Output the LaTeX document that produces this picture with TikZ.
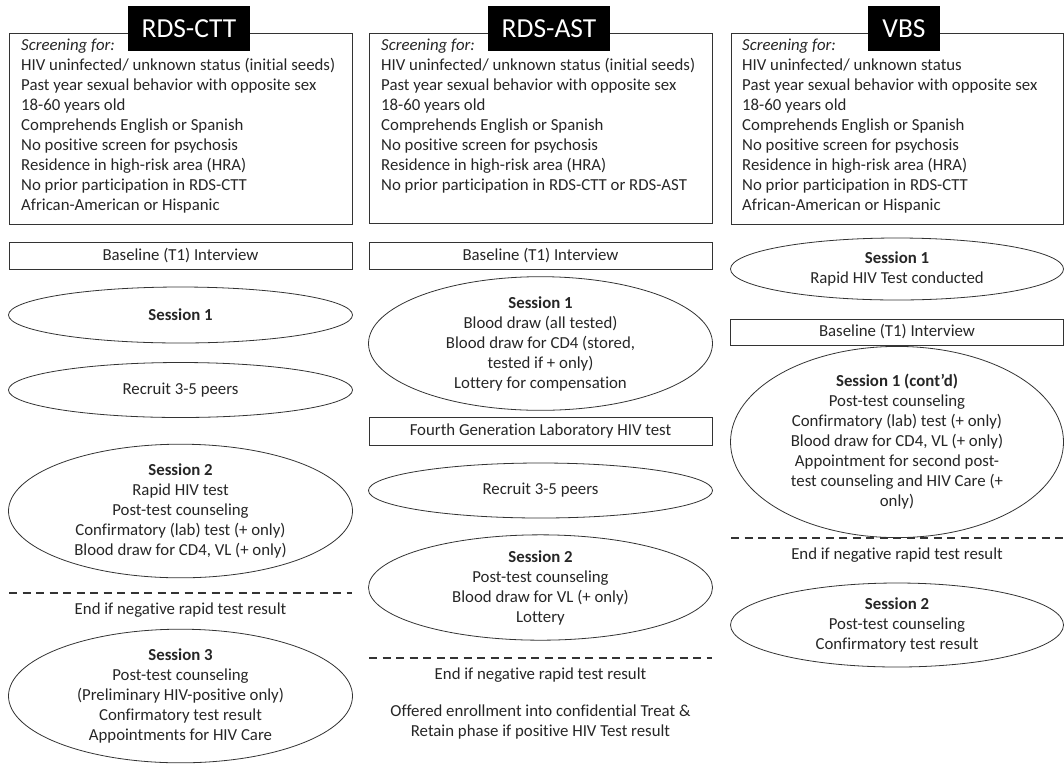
\documentclass[tikz,border=0pt]{standalone}
\usepackage{fontspec}
\setmainfont[Ligatures=NoCommon]{Carlito}
\usetikzlibrary{shapes.geometric}
\begin{document}
\begin{tikzpicture}[
  x=1pt,y=-1pt,
  every node/.style={font=\fontsize{16.8}{20}\selectfont,text=black!85,inner sep=0pt},
  frame/.style={draw=black!80,line width=1pt,anchor=north west},
  hdr/.style={fill=black,text=white,font=\fontsize{27.5}{28}\selectfont,minimum height=45,minimum width=122},
  crit/.style={align=left,anchor=north west},
  bar/.style={draw=black!80,line width=1pt,minimum width=343,minimum height=27},
  sess/.style={ellipse,draw=black!80,line width=0.8pt,align=center},
  cut/.style={draw=black!80,line width=1.6pt,dash pattern=on 8pt off 5.5pt},
  note/.style={align=center}
]
\useasboundingbox (0,0) rectangle (1064,764);

% RDS-CTT column
\node[frame,minimum width=343,minimum height=191] (cttF) at (9,33) {};
\node[crit] (cttC) at (21,39) {\textit{Screening for:}\\
  HIV uninfected/ unknown status (initial seeds)\\
  Past year sexual behavior with opposite sex\\
  18-60 years old\\
  Comprehends English or Spanish\\
  No positive screen for psychosis\\
  Residence in high-risk area (HRA)\\
  No prior participation in RDS-CTT\\
  African-American or Hispanic};
\node[hdr] (cttH) at (189,28.5) {RDS-CTT};
\node[bar] (cttB) at (180.5,255.5) {Baseline (T1) Interview};
\node[sess,minimum width=344,minimum height=56] (cttS1) at (180.5,315) {\textbf{Session 1}};
\node[sess,minimum width=344,minimum height=55] (cttR) at (180.5,390) {Recruit 3-5 peers};
\node[sess,minimum width=344,minimum height=128] (cttS2) at (180.5,511) {\textbf{Session 2}\\
  Rapid HIV test\\ Post-test counseling\\ Confirmatory (lab) test (+ only)\\ Blood draw for CD4, VL (+ only)};
\coordinate (cttL) at (9,593);
\coordinate (cttR2) at (352,593);
\draw[cut] (cttL) -- (cttR2);
\node[note] (cttE) at (180.5,610) {End if negative rapid test result};
\node[sess,minimum width=344,minimum height=132] (cttS3) at (180.5,696) {\textbf{Session 3}\\
  Post-test counseling\\ (Preliminary HIV-positive only)\\ Confirmatory test result\\ Appointments for HIV Care};

% RDS-AST column
\node[frame,minimum width=343,minimum height=190] (astF) at (369,33) {};
\node[crit] (astC) at (381,39) {\textit{Screening for:}\\
  HIV uninfected/ unknown status (initial seeds)\\
  Past year sexual behavior with opposite sex\\
  18-60 years old\\
  Comprehends English or Spanish\\
  No positive screen for psychosis\\
  Residence in high-risk area (HRA)\\
  No prior participation in RDS-CTT or RDS-AST};
\node[hdr] (astH) at (549,28.5) {RDS-AST};
\node[bar] (astB) at (540.5,255.5) {Baseline (T1) Interview};
\node[sess,minimum width=344,minimum height=111] (astS1) at (540.5,343.5) {\textbf{Session 1}\\
  Blood draw (all tested)\\ Blood draw for CD4 (stored,\\ tested if + only)\\ Lottery for compensation};
\node[bar,minimum height=28] (astG) at (540.5,431) {Fourth Generation Laboratory HIV test};
\node[sess,minimum width=344,minimum height=55] (astR) at (540.5,490.5) {Recruit 3-5 peers};
\node[sess,minimum width=344,minimum height=101] (astS2) at (540.5,587.5) {\textbf{Session 2}\\
  Post-test counseling\\ Blood draw for VL (+ only)\\ Lottery};
\coordinate (astL) at (369,658);
\coordinate (astR2) at (712,658);
\draw[cut] (astL) -- (astR2);
\node[note] (astE) at (540.5,675) {End if negative rapid test result};
\node[note] (astO) at (540.5,722.5) {Offered enrollment into confidential Treat \&\\ Retain phase if positive HIV Test result};

% VBS column
\node[frame,minimum width=332,minimum height=191] (vbsF) at (731,33) {};
\node[crit] (vbsC) at (742,39) {\textit{Screening for:}\\
  HIV uninfected/ unknown status\\
  Past year sexual behavior with opposite sex\\
  18-60 years old\\
  Comprehends English or Spanish\\
  No positive screen for psychosis\\
  Residence in high-risk area (HRA)\\
  No prior participation in RDS-CTT\\
  African-American or Hispanic};
\node[hdr,minimum width=72] (vbsH) at (904,28.5) {VBS};
\node[sess,minimum width=333,minimum height=62] (vbsS1) at (897,269) {\textbf{Session 1}\\ Rapid HIV Test conducted};
\node[bar,minimum width=333,minimum height=26] (vbsB) at (897,332) {Baseline (T1) Interview};
\node[sess,minimum width=333,minimum height=154] (vbsS1c) at (897,442) {\textbf{Session 1 (cont'd)}\\
  Post-test counseling\\ Confirmatory (lab) test (+ only)\\ Blood draw for CD4, VL (+ only)\\
  Appointment for second post-\\ test counseling and HIV Care (+\\ only)};
\coordinate (vbsL) at (731,538);
\coordinate (vbsR2) at (1063,538);
\draw[cut] (vbsL) -- (vbsR2);
\node[note] (vbsE) at (897,555) {End if negative rapid test result};
\node[sess,minimum width=333,minimum height=84] (vbsS2) at (897,625) {\textbf{Session 2}\\
  Post-test counseling\\ Confirmatory test result};
\end{tikzpicture}
\end{document}
